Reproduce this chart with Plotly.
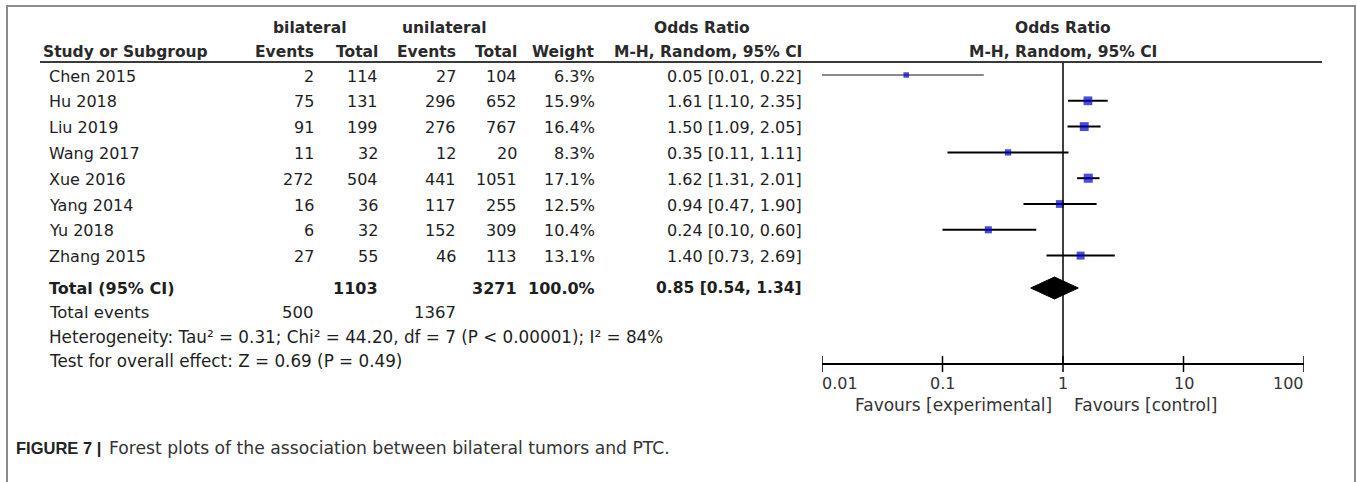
import math
import plotly.graph_objects as go

# ---- study data -------------------------------------------------------------
studies = ["Chen 2015", "Hu 2018", "Liu 2019", "Wang 2017",
           "Xue 2016", "Yang 2014", "Yu 2018", "Zhang 2015"]
bi_events = [2, 75, 91, 11, 272, 16, 6, 27]
bi_total = [114, 131, 199, 32, 504, 36, 32, 55]
uni_events = [27, 296, 276, 12, 441, 117, 152, 46]
uni_total = [104, 652, 767, 20, 1051, 255, 309, 113]
weights = [6.3, 15.9, 16.4, 8.3, 17.1, 12.5, 10.4, 13.1]
odds = [0.05, 1.61, 1.50, 0.35, 1.62, 0.94, 0.24, 1.40]
ci_low = [0.01, 1.10, 1.09, 0.11, 1.31, 0.47, 0.10, 0.73]
ci_high = [0.22, 2.35, 2.05, 1.11, 2.01, 1.90, 0.60, 2.69]

total_bi = 1103
total_uni = 3271
total_weight = 100.0
pooled_or = 0.85
pooled_low = 0.54
pooled_high = 1.34
events_bi = 500
events_uni = 1367

heterogeneity = "Heterogeneity: Tau² = 0.31; Chi² = 44.20, df = 7 (P &lt; 0.00001); I² = 84%"
overall_test = "Test for overall effect: Z = 0.69 (P = 0.49)"
caption_bold = "FIGURE 7 |"
caption_text = "Forest plots of the association between bilateral tumors and PTC."

tick_values = [0.01, 0.1, 1, 10, 100]
tick_labels = ["0.01", "0.1", "1", "10", "100"]

# ---- layout geometry (pixels) ----------------------------------------------
W, H = 1357, 482
PLOT_L, PLOT_R = 822, 1304          # x of 0.01 and 100
ROW_Y0, ROW_DY = 75, 25.8
TOTAL_Y, EVENTS_Y, HET_Y, TEST_Y = 288, 312, 337, 361
H1_Y, H2_Y, RULE_Y = 28, 52, 62
AXIS_Y, TICK_HALF = 364, 8
TICKLBL_Y, FAV_Y, CAPTION_Y = 383, 405, 448
LABEL_X = 47
COL_R = [316, 380, 458, 519, 597, 804]   # right edges of numeric columns
CENTER_X = (PLOT_L + PLOT_R) / 2

BODY = "DejaVu Sans"
SANS = "Liberation Sans"
TXT = "#1e1e1e"
HEAD = "#2a2a2a"

row_y = [ROW_Y0 + i * ROW_DY for i in range(len(studies))]

fig = go.Figure()
annotations = []
shapes = []


def px(x):
    return x / W


def label(x, y, text, anchor="left", size=16, family=BODY, color=TXT, bold=False):
    if bold:
        text = "<b>" + text + "</b>"
    annotations.append(dict(
        x=px(x), y=y, xref="paper", yref="y", text=text, showarrow=False,
        xanchor=anchor, yanchor="middle",
        font=dict(family=family, size=size, color=color)))


# ---- table headers ----------------------------------------------------------
label(310, H1_Y, "bilateral", "center", 15.5, color=HEAD, bold=True)
label(445, H1_Y, "unilateral", "center", 15.5, color=HEAD, bold=True)
label(702, H1_Y, "Odds Ratio", "center", 15.5, color=HEAD, bold=True)
label(CENTER_X, H1_Y, "Odds Ratio", "center", 15.5, color=HEAD, bold=True)

label(41, H2_Y, "Study or Subgroup", "left", 15.5, color=HEAD, bold=True)
for xr, t in zip(COL_R, ["Events", "Total", "Events", "Total", "Weight",
                         "M-H, Random, 95% CI"]):
    label(xr, H2_Y, t, "right", 15.5, color=HEAD, bold=True)
label(CENTER_X, H2_Y, "M-H, Random, 95% CI", "center", 15.5, color=HEAD, bold=True)

# ---- study rows -------------------------------------------------------------
for i, name in enumerate(studies):
    y = row_y[i] + 1
    label(LABEL_X, y, name)
    vals = [str(bi_events[i]), str(bi_total[i]), str(uni_events[i]),
            str(uni_total[i]), f"{weights[i]:.1f}%",
            f"{odds[i]:.2f} [{ci_low[i]:.2f}, {ci_high[i]:.2f}]"]
    for xr, v in zip(COL_R, vals):
        label(xr, y, v, "right")

# ---- totals and statistics --------------------------------------------------
label(LABEL_X, TOTAL_Y, "Total (95% CI)", "left", 16, bold=True)
label(COL_R[1], TOTAL_Y, str(total_bi), "right", 16, bold=True)
label(COL_R[3], TOTAL_Y, str(total_uni), "right", 16, bold=True)
label(COL_R[4], TOTAL_Y, f"{total_weight:.1f}%", "right", 16, bold=True)
label(COL_R[5], TOTAL_Y,
      f"{pooled_or:.2f} [{pooled_low:.2f}, {pooled_high:.2f}]", "right", 15.5, bold=True)

label(LABEL_X, EVENTS_Y, "Total events", "left", 16.5)
label(COL_R[0], EVENTS_Y, str(events_bi), "right", 16.5)
label(COL_R[2], EVENTS_Y, str(events_uni), "right", 16.5)
label(LABEL_X, HET_Y, heterogeneity, "left", 16.8)
label(LABEL_X, TEST_Y, overall_test, "left", 16.8)

# ---- forest plot marks ------------------------------------------------------
for i in range(len(studies)):
    fig.add_trace(go.Scatter(
        x=[ci_low[i], ci_high[i]], y=[row_y[i], row_y[i]], mode="lines",
        line=dict(color="#8a8a8a" if i == 0 else "black", width=2),
        hoverinfo="skip", showlegend=False))

fig.add_trace(go.Scatter(
    x=odds, y=row_y, mode="markers",
    marker=dict(symbol="square", color="#0000cc",
                size=[2.2 * math.sqrt(w) for w in weights], line=dict(width=0)),
    hoverinfo="skip", showlegend=False))

DIAMOND_HALF = 11
fig.add_trace(go.Scatter(
    x=[pooled_low, pooled_or, pooled_high, pooled_or, pooled_low],
    y=[TOTAL_Y, TOTAL_Y - DIAMOND_HALF, TOTAL_Y, TOTAL_Y + DIAMOND_HALF, TOTAL_Y],
    mode="lines", fill="toself", fillcolor="black",
    line=dict(color="black", width=1), hoverinfo="skip", showlegend=False))

# line of no effect
fig.add_trace(go.Scatter(
    x=[1, 1], y=[RULE_Y, AXIS_Y], mode="lines",
    line=dict(color="black", width=1.5), hoverinfo="skip", showlegend=False))

# axis line with ticks crossing it
fig.add_trace(go.Scatter(
    x=[tick_values[0], tick_values[-1]], y=[AXIS_Y, AXIS_Y], mode="lines",
    line=dict(color="black", width=2), hoverinfo="skip", showlegend=False))
tx, ty = [], []
for v in tick_values:
    tx += [v, v, None]
    ty += [AXIS_Y - TICK_HALF, AXIS_Y + TICK_HALF, None]
fig.add_trace(go.Scatter(
    x=tx, y=ty, mode="lines", line=dict(color="black", width=1.5),
    hoverinfo="skip", showlegend=False))

for v, t in zip(tick_values, tick_labels):
    anchor = "left" if v == tick_values[0] else ("right" if v == tick_values[-1] else "center")
    annotations.append(dict(
        x=math.log10(v), y=TICKLBL_Y, xref="x", yref="y", text=t, showarrow=False,
        xanchor=anchor, yanchor="middle", xshift=-2 if anchor == "left" else (2 if anchor == "right" else 0),
        font=dict(family=BODY, size=16, color="#333333")))

annotations.append(dict(
    x=0, y=FAV_Y, xref="x", yref="y", text="Favours [experimental]", showarrow=False,
    xanchor="right", yanchor="middle", xshift=-9,
    font=dict(family=BODY, size=17, color="#333333")))
annotations.append(dict(
    x=0, y=FAV_Y, xref="x", yref="y", text="Favours [control]", showarrow=False,
    xanchor="left", yanchor="middle", xshift=9,
    font=dict(family=BODY, size=17, color="#333333")))

# ---- frame, header rule and caption ----------------------------------------
shapes.append(dict(type="line", xref="paper", yref="y", x0=px(40), x1=px(1322),
                   y0=RULE_Y, y1=RULE_Y, line=dict(color="#3a3a3a", width=2)))
shapes.append(dict(type="path", xref="paper", yref="y",
                   path=f"M {px(7)} {H} L {px(7)} 6 L {px(1355)} 6 L {px(1355)} {H}",
                   line=dict(color="#8c8c8c", width=2)))

label(14, CAPTION_Y, caption_bold, "left", 16.5, SANS, "#222222", bold=True)
label(107, CAPTION_Y, caption_text, "left", 17.2, BODY, "#333333")

fig.update_layout(
    width=W, height=H, margin=dict(l=0, r=0, t=0, b=0),
    paper_bgcolor="white", plot_bgcolor="white",
    xaxis=dict(type="log", range=[math.log10(tick_values[0]), math.log10(tick_values[-1])],
               domain=[PLOT_L / W, PLOT_R / W], visible=False, fixedrange=True),
    yaxis=dict(range=[H, 0], domain=[0, 1], visible=False, fixedrange=True),
    annotations=annotations, shapes=shapes, showlegend=False,
)

fig.write_html("out.html", config={"displayModeBar": False})
